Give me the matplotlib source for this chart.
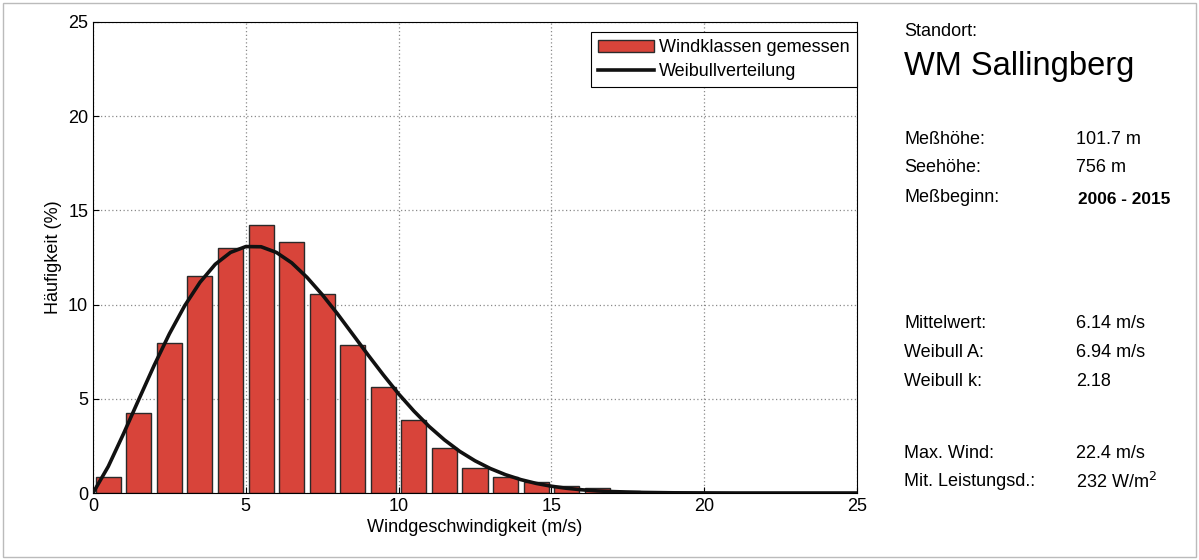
import matplotlib.pyplot as plt
from matplotlib.patches import Rectangle

plt.rcParams['font.family'] = ['Liberation Sans', 'DejaVu Sans']

# measured wind classes (bin centres in m/s, frequency in %)
bin_centres = [0.5, 1.5, 2.5, 3.5, 4.5, 5.5, 6.5, 7.5, 8.5, 9.5, 10.5, 11.5, 12.5,
               13.5, 14.5, 15.5, 16.5, 17.5, 18.5, 19.5, 20.5, 21.5, 22.5, 23.5, 24.5]
freq = [0.85, 4.24, 7.95, 11.52, 12.99, 14.24, 13.30, 10.58, 7.86, 5.60, 3.88, 2.38, 1.35,
        0.87, 0.60, 0.37, 0.28, 0.09, 0.04, 0.02, 0.01, 0.005, 0, 0, 0]

# Weibull curve
curve_x = [0, 0.5, 1, 1.5, 2, 2.5, 3, 3.5, 4, 4.5, 5, 5.5, 6, 6.5, 7, 7.5, 8, 8.5, 9,
           9.5, 10, 10.5, 11, 11.5, 12, 12.5, 13, 13.5, 14, 14.5, 15, 15.5, 16, 16.5,
           17, 17.5, 18, 19, 20, 21, 22, 23, 24, 25]
curve_y = [0, 1.41, 3.15, 4.97, 6.77, 8.45, 9.94, 11.18, 12.14, 12.77, 13.08, 13.07,
           12.77, 12.22, 11.45, 10.53, 9.51, 8.42, 7.33, 6.27, 5.26, 4.35, 3.53, 2.82,
           2.21, 1.71, 1.30, 0.97, 0.71, 0.51, 0.36, 0.25, 0.17, 0.11, 0.075, 0.05,
           0.03, 0.01, 0.005, 0, 0, 0, 0, 0]

info_top = [("Meßhöhe:", "101.7 m"), ("Seehöhe:", "756 m"), ("Meßbeginn:", "2006 - 2015")]
info_bottom = [("Mittelwert:", "6.14 m/s"), ("Weibull A:", "6.94 m/s"), ("Weibull k:", "2.18")]
info_extra = [("Max. Wind:", "22.4 m/s"), ("Mit. Leistungsd.:", "232 W/m$^2$")]

fig = plt.figure(figsize=(11.99, 5.6), dpi=100)
ax = fig.add_axes([93/1199, 1-493/560, 764/1199, 471/560])

bars = ax.bar(bin_centres, freq, width=0.82, color='#d8443a', edgecolor='#2a2a2a',
              linewidth=1.0, label='Windklassen gemessen', zorder=2)
line, = ax.plot(curve_x, curve_y, color='#111111', linewidth=2.6,
                label='Weibullverteilung', zorder=3)

ax.set_xlim(0, 25)
ax.set_ylim(0, 25)
ax.set_xticks([0, 5, 10, 15, 20, 25])
ax.set_yticks([0, 5, 10, 15, 20, 25])
ax.tick_params(direction='in', labelsize=13, length=4)
ax.grid(True, linestyle=(0, (1, 2)), color='#8a8a8a', linewidth=0.9, zorder=0)
ax.set_axisbelow(True)
ax.set_xlabel('Windgeschwindigkeit (m/s)', fontsize=13, labelpad=3)
ax.set_ylabel('Häufigkeit (%)', fontsize=13, labelpad=4)

leg = ax.legend([bars, line], ['Windklassen gemessen', 'Weibullverteilung'],
                loc='upper right', bbox_to_anchor=(857/1199, 1 - 32/560),
                bbox_transform=fig.transFigure, fontsize=13,
                frameon=True, fancybox=False, edgecolor='black', framealpha=1,
                handlelength=3.1, borderpad=0.4, labelspacing=0.38, handletextpad=0.3,
                borderaxespad=0.0)
leg.get_frame().set_linewidth(0.8)

# info panel on the right
def fy(py):
    return 1 - py / 560

x_lab = 904 / 1199
x_val = 1076 / 1199
fig.text(x_lab, fy(32), "Standort:", fontsize=13, va='center')
fig.text(x_lab, fy(66), "WM Sallingberg", fontsize=23.5, va='center')
for i, (lab, val) in enumerate(info_top):
    y = fy(139 + i * 29)
    fig.text(x_lab, y, lab, fontsize=13, va='center')
    if val.startswith("2006"):
        fig.text(1078/1199, fy(199), val, fontsize=12.4, va='center', fontweight='bold')
    else:
        fig.text(x_val, y, val, fontsize=13, va='center')
for i, (lab, val) in enumerate(info_bottom):
    y = fy(324 + i * 28.5)
    fig.text(x_lab, y, lab, fontsize=13, va='center')
    fig.text(x_val, y, val, fontsize=13, va='center')
for i, (lab, val) in enumerate(info_extra):
    y = fy(453 + i * 29)
    fig.text(x_lab, y, lab, fontsize=13, va='center')
    fig.text(x_val, y, val, fontsize=13, va='center')

fig.patches.append(Rectangle((3/1199, 3/560), 1193/1199, 554/560, transform=fig.transFigure,
                             fill=False, edgecolor='#bbbbbb', linewidth=1.0))

fig.savefig('out.png', dpi=100)
